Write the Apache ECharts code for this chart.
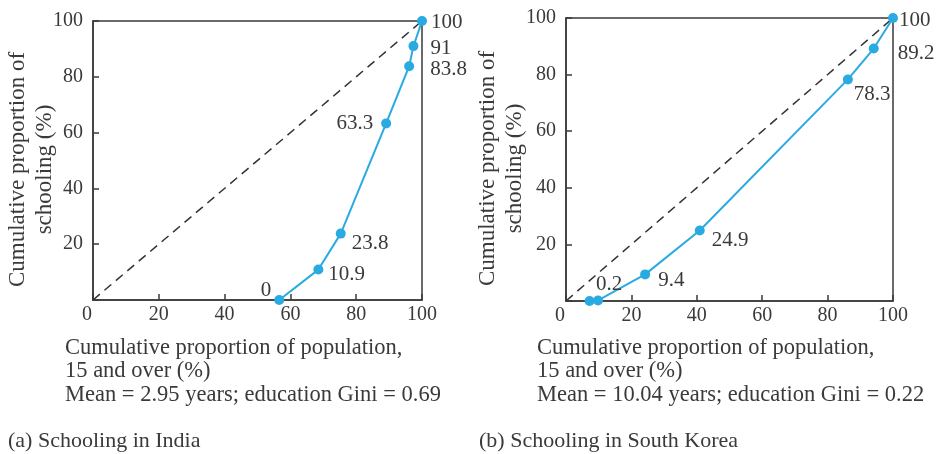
<!DOCTYPE html>
<html>
<head>
<meta charset="utf-8">
<script src="https://cdn.jsdelivr.net/npm/echarts@6/dist/echarts.min.js"></script>
<style>
  html, body { margin: 0; padding: 0; background: #fff; }
  #chart { width: 939px; height: 454px; }
</style>
</head>
<body>
<div id="chart"></div>
<script>
// Education Lorenz curves: cumulative share of population (x) vs cumulative share of schooling (y)
const indiaPopulation = [56.6, 68.5, 75.3, 89.1, 96.1, 97.4, 100];
const indiaSchooling  = [0, 10.9, 23.8, 63.3, 83.8, 91, 100];

const koreaPopulation = [7.2, 9.8, 24.2, 40.9, 86.2, 94.1, 100];
const koreaSchooling  = [0, 0.2, 9.4, 24.9, 78.3, 89.2, 100];

const equalityLine = [0, 100];
const axisTicks = [0, 20, 40, 60, 80, 100];

const yAxisTitle = 'Cumulative proportion of\nschooling (%)';
const xAxisTitle = ['Cumulative proportion of population,', '15 and over (%)'];
const indiaStats = 'Mean = 2.95 years; education Gini = 0.69';
const koreaStats = 'Mean = 10.04 years; education Gini = 0.22';
const indiaCaption = '(a) Schooling in India';
const koreaCaption = '(b) Schooling in South Korea';

// label placement for each point: [side, distance, vertical offset]; null hides the label
const indiaLabelPlace = [
  ['left', 3, -10], ['right', 5, 5], ['right', 6, 10], ['left', 8, 0],
  ['right', 16, 3], ['right', 12, 2], ['right', 4, 1]
];
const koreaLabelPlace = [
  null, ['right', -7, -16], ['right', 8, 6], ['right', 7, 10],
  ['right', 1, 15], ['right', 19, 5], ['right', 1, 2]
];

const SERIF = '"Liberation Serif", "Times New Roman", serif';
const INK = '#3a3a3a';
const CURVE = '#29abe2';

function curveData(xs, ys, places) {
  return xs.map((x, i) => {
    const p = places[i];
    const item = { value: [x, ys[i]] };
    if (!p) {
      item.label = { show: false };
    } else {
      item.label = { position: p[0], distance: p[1], offset: [0, p[2]] };
    }
    return item;
  });
}

function axesFor(gridIndex, nameGap) {
  const common = {
    gridIndex: gridIndex,
    type: 'value',
    min: axisTicks[0],
    max: axisTicks[axisTicks.length - 1],
    interval: axisTicks[1] - axisTicks[0],
    axisLine: { show: true, lineStyle: { color: INK, width: 1.5 } },
    axisTick: { show: true, inside: true, length: 6, lineStyle: { color: INK, width: 1.5 } },
    splitLine: { show: false }
  };
  const x = Object.assign({}, common, {
    axisLabel: {
      color: INK, fontFamily: SERIF, fontSize: 20, margin: 5,
      formatter: v => v === 0 ? '{z|0}' : String(v),
      rich: { z: { fontFamily: SERIF, fontSize: 20, color: INK, padding: [0, 12, 0, 0] } }
    }
  });
  const y = Object.assign({}, common, {
    name: yAxisTitle,
    nameLocation: 'middle',
    nameRotate: 90,
    nameGap: nameGap,
    nameMoveOverlap: false,
    nameTextStyle: {
      color: INK, fontFamily: SERIF, fontSize: 23, lineHeight: 27, align: 'center',
      padding: [0, 18, 0, 0]
    },
    axisLabel: {
      color: INK, fontFamily: SERIF, fontSize: 20, margin: 10,
      formatter: v => v === 0 ? '' : String(v)
    }
  });
  return { x, y };
}

const a0 = axesFor(0, 35), a1 = axesFor(1, 38);

function curveSeries(idx, xs, ys, places) {
  return {
    type: 'line',
    xAxisIndex: idx, yAxisIndex: idx,
    data: curveData(xs, ys, places),
    symbol: 'circle', symbolSize: 10,
    itemStyle: { color: CURVE },
    lineStyle: { color: CURVE, width: 2 },
    label: {
      show: true, color: INK, fontFamily: SERIF, fontSize: 21,
      formatter: p => String(p.value[1])
    },
    z: 3
  };
}

function diagonal(idx) {
  return {
    type: 'line',
    xAxisIndex: idx, yAxisIndex: idx,
    data: [[equalityLine[0], equalityLine[0]], [equalityLine[1], equalityLine[1]]],
    symbol: 'none',
    lineStyle: { color: '#333', width: 1.5, type: [9, 6] },
    z: 2
  };
}

function textBlock(left, lines, caption, captionLeft) {
  const centers = [348, 371.5, 395];
  const els = lines.map((t, i) => ({
    type: 'text', x: left, y: centers[i],
    style: { text: t, fill: INK, font: '22.5px ' + SERIF, textVerticalAlign: 'middle' }
  }));
  els.push({
    type: 'text', x: captionLeft, y: 441,
    style: { text: caption, fill: INK, font: '22px ' + SERIF, textVerticalAlign: 'middle' }
  });
  return els;
}

const chart = echarts.init(document.getElementById('chart'), null, { renderer: 'canvas' });
chart.setOption({
  animation: false,
  backgroundColor: '#fff',
  grid: [
    { left: 93, top: 21, width: 329, height: 279, show: true, borderColor: INK, borderWidth: 1.5,
      containLabel: false, outerBoundsMode: 'none' },
    { left: 566, top: 18, width: 327, height: 283, show: true, borderColor: INK, borderWidth: 1.5,
      containLabel: false, outerBoundsMode: 'none' }
  ],
  xAxis: [a0.x, a1.x],
  yAxis: [a0.y, a1.y],
  series: [
    diagonal(0),
    curveSeries(0, indiaPopulation, indiaSchooling, indiaLabelPlace),
    diagonal(1),
    curveSeries(1, koreaPopulation, koreaSchooling, koreaLabelPlace)
  ],
  graphic: [].concat(
    textBlock(65, xAxisTitle.concat([indiaStats]), indiaCaption, 8),
    textBlock(537, xAxisTitle.concat([koreaStats]), koreaCaption, 479)
  )
});
</script>
</body>
</html>
